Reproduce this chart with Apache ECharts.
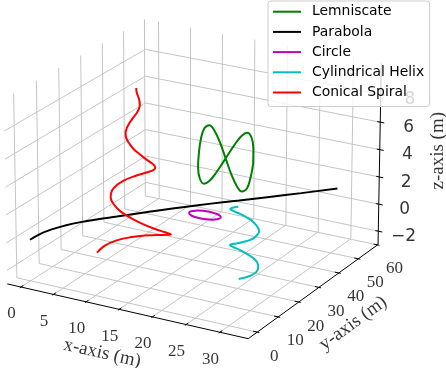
<!DOCTYPE html>
<html>
<head>
<meta charset="utf-8">
<script src="https://cdn.jsdelivr.net/npm/echarts@6/dist/echarts.min.js"></script>
<style>
html, body { margin: 0; padding: 0; background: #fff; }
#main { width: 446px; height: 368px; }
</style>
</head>
<body>
<div id="main"></div>
<script>
// tick values
var xTicks = [0, 5, 10, 15, 20, 25, 30];
var yTicks = [0, 10, 20, 30, 40, 50, 60];
var zTicks = [-2, 0, 2, 4, 6, 8];

// curves (x, y, z in metres)
var lemniscateX = [21.1, 20.9, 20.5, 19.8, 19.0, 18.0, 16.9, 15.8, 14.8, 14.0, 13.3, 12.9, 12.8, 12.9, 13.3, 14.0, 14.8, 15.8, 16.9, 18.0, 19.0, 19.8, 20.5, 20.9, 21.1];
var lemniscateY = [40.0, 40.7, 41.1, 41.3, 41.1, 40.7, 40.0, 39.3, 38.9, 38.7, 38.9, 39.3, 40.0, 40.7, 41.1, 41.3, 41.1, 40.7, 40.0, 39.3, 38.9, 38.7, 38.9, 39.3, 40.0];
var lemniscateZ = [3.64, 4.64, 5.38, 5.65, 5.38, 4.64, 3.64, 2.64, 1.90, 1.63, 1.90, 2.64, 3.64, 4.64, 5.38, 5.65, 5.38, 4.64, 3.64, 2.64, 1.90, 1.63, 1.90, 2.64, 3.64];

var parabolaX = [0, 0.15, 0.59, 1.32, 2.35, 3.67, 5.28, 7.19, 9.39, 11.89, 14.68, 17.76, 21.14, 24.81, 29.03];
var parabolaY = [0, 4, 8, 12, 16, 20, 24, 28, 32, 36, 40, 44, 48, 52, 56.25];
var parabolaZ = [0, 0.02, 0, -0.05, -0.1, -0.16, -0.2, -0.18, -0.12, -0.03, 0.1, 0.25, 0.45, 0.7, 1.05];

var circleX = [18.1, 17.9, 17.4, 16.6, 15.7, 14.8, 14.1, 13.6, 13.4, 13.6, 14.1, 14.8, 15.7, 16.6, 17.4, 17.9, 18.1];
var circleY = [33.6, 34.5, 35.3, 35.8, 36.0, 35.8, 35.3, 34.5, 33.6, 32.8, 32.0, 31.5, 31.3, 31.5, 32.0, 32.8, 33.6];
var circleZ = [0, 0, 0, 0, 0, 0, 0, 0, 0, 0, 0, 0, 0, 0, 0, 0, 0];

var helixX = [25.7, 24.9, 24.4, 24.0, 24.0, 24.2, 24.8, 25.5, 26.3, 27.0, 27.6, 28.0, 28.0, 27.8, 27.3, 26.5, 25.8, 25.0, 24.4, 24.0, 24.0, 24.1, 24.7, 25.4, 26.2, 27.0, 27.6, 27.9, 28.0, 27.8, 27.3, 26.6, 25.8];
var helixY = [18.0, 18.3, 18.8, 19.6, 20.4, 21.1, 21.7, 22.0, 22.1, 21.8, 21.3, 20.6, 19.8, 19.0, 18.4, 18.1, 18.0, 18.3, 18.8, 19.5, 20.3, 21.1, 21.7, 22.0, 22.1, 21.9, 21.3, 20.6, 19.9, 19.1, 18.5, 18.1, 18.0];
var helixZ = [3.18, 3.02, 2.86, 2.69, 2.53, 2.37, 2.21, 2.05, 1.89, 1.72, 1.56, 1.40, 1.24, 1.08, 0.91, 0.75, 0.59, 0.43, 0.27, 0.10, -0.06, -0.22, -0.38, -0.54, -0.71, -0.87, -1.03, -1.19, -1.35, -1.51, -1.68, -1.84, -2.00];

var spiralX = [10.0, 10.1, 10.3, 10.4, 10.4, 10.2, 9.9, 9.5, 9.1, 8.8, 8.6, 8.6, 8.9, 9.5, 10.2, 11.1, 11.8, 12.4, 12.6, 12.4, 11.8, 10.8, 9.6, 8.4, 7.3, 6.6, 6.3, 6.6, 7.5, 8.8, 10.5, 12.2, 13.6, 14.6, 14.9, 14.4, 13.2, 11.5, 9.4, 7.3, 5.5, 4.4, 4.0];
var spiralY = [19.2, 19.1, 19.2, 19.4, 19.6, 19.9, 20.0, 20.1, 19.9, 19.5, 19.0, 18.4, 17.8, 17.4, 17.2, 17.3, 17.7, 18.5, 19.5, 20.5, 21.4, 22.1, 22.3, 22.1, 21.3, 20.2, 18.8, 17.3, 16.0, 15.2, 14.9, 15.3, 16.3, 17.9, 19.7, 21.6, 23.2, 24.3, 24.6, 24.1, 22.8, 20.8, 18.5];
var spiralZ = [10.00, 9.70, 9.41, 9.11, 8.82, 8.52, 8.23, 7.93, 7.63, 7.34, 7.04, 6.75, 6.45, 6.16, 5.86, 5.56, 5.27, 4.97, 4.68, 4.38, 4.09, 3.79, 3.49, 3.20, 2.90, 2.61, 2.31, 2.02, 1.72, 1.42, 1.13, 0.83, 0.54, 0.24, -0.05, -0.35, -0.65, -0.94, -1.24, -1.53, -1.83, -2.12, -2.42];

// view of the 3D box (perspective camera looking at the data box)
var D2R = Math.PI / 180;
var BOX = [1.1428, 1.1428, 0.8571];
var VIEW = { elev: 21.324, azim: -60.405, dist: 16.691, zoom: 4008.651, cx: 194.847, cy: 168.971 };
var NORM = { x: [-2.136, 34.141], y: [-4.269, 60.295], z: [-2.989, 10.872] };
var PANE = { x: [-2.136, 34.141], y: [-4.269, 60.295], z: [-2.989, 10.24] };

function makeProjection(view, norm) {
  var e = view.elev * D2R, a = view.azim * D2R;
  var w = [Math.cos(e) * Math.cos(a), Math.cos(e) * Math.sin(a), Math.sin(e)];
  var eye = [BOX[0] / 2 + view.dist * w[0], BOX[1] / 2 + view.dist * w[1], BOX[2] / 2 + view.dist * w[2]];
  var ul = Math.sqrt(w[0] * w[0] + w[1] * w[1]);
  var u = [-w[1] / ul, w[0] / ul, 0];
  var v = [w[1] * u[2] - w[2] * u[1], w[2] * u[0] - w[0] * u[2], w[0] * u[1] - w[1] * u[0]];
  return function (x, y, z) {
    var d = [
      (x - norm.x[0]) / (norm.x[1] - norm.x[0]) * BOX[0] - eye[0],
      (y - norm.y[0]) / (norm.y[1] - norm.y[0]) * BOX[1] - eye[1],
      (z - norm.z[0]) / (norm.z[1] - norm.z[0]) * BOX[2] - eye[2]
    ];
    var xv = u[0] * d[0] + u[1] * d[1];
    var yv = v[0] * d[0] + v[1] * d[1] + v[2] * d[2];
    var zv = w[0] * d[0] + w[1] * d[1] + w[2] * d[2];
    return [view.cx + view.zoom * xv / (-zv), view.cy - view.zoom * yv / (-zv)];
  };
}
var proj = makeProjection(VIEW, NORM);

var X0 = PANE.x[0], X1 = PANE.x[1], Y0 = PANE.y[0], Y1 = PANE.y[1], Z0 = PANE.z[0], Z1 = PANE.z[1];
var DX = (X1 - X0) / 12, DY = (Y1 - Y0) / 12;

function seg(list, a, b) {
  list.push({ coords: [proj(a[0], a[1], a[2]), proj(b[0], b[1], b[2])] });
}

// grid on the three back panes
var gridSegs = [];
xTicks.forEach(function (x) {
  seg(gridSegs, [x, Y0, Z0], [x, Y1, Z0]);
  seg(gridSegs, [x, Y1, Z0], [x, Y1, Z1]);
});
yTicks.forEach(function (y) {
  seg(gridSegs, [X0, y, Z0], [X1, y, Z0]);
  seg(gridSegs, [X0, y, Z0], [X0, y, Z1]);
});
zTicks.forEach(function (z) {
  seg(gridSegs, [X0, Y0, z], [X0, Y1, z]);
  seg(gridSegs, [X0, Y1, z], [X1, Y1, z]);
});

// axis lines + tick marks
var axisSegs = [];
seg(axisSegs, [X0, Y0, Z0], [X1, Y0, Z0]);
seg(axisSegs, [X1, Y0, Z0], [X1, Y1, Z0]);
seg(axisSegs, [X1, Y1, Z0], [X1, Y1, Z1]);
xTicks.forEach(function (x) { seg(axisSegs, [x, Y0 - 0.1 * DY, Z0], [x, Y0 + 0.2 * DY, Z0]); });
yTicks.forEach(function (y) { seg(axisSegs, [X1 + 0.1 * DX, y, Z0], [X1 - 0.2 * DX, y, Z0]); });
zTicks.forEach(function (z) { seg(axisSegs, [X1 + 0.2 * DX, Y1, z], [X1 - 0.15 * DX, Y1, z]); });

// tick labels
function shifted(p, dx, dy) { return [p[0] + dx, p[1] + dy]; }
var xLabelData = xTicks.map(function (t) { return { name: String(t), value: shifted(proj(t, Y0, Z0), -9.5, 27) }; });
var yLabelData = yTicks.map(function (t) { return { name: String(t), value: shifted(proj(X1, t, Z0), 17, 24) }; });
var zLabelData = zTicks.map(function (t) {
  return { name: t < 0 ? '\u2212' + (-t) : String(t), value: shifted(proj(X1, Y1, t), 26 + 0.4 * t, 5.3) };
});

// axis titles
var xa0 = proj(X0, Y0, Z0), xa1 = proj(X1, Y0, Z0), ya1 = proj(X1, Y1, Z0);
var xAngle = -Math.atan2(xa1[1] - xa0[1], xa1[0] - xa0[0]) / D2R;
var yAngle = -Math.atan2(ya1[1] - xa1[1], ya1[0] - xa1[0]) / D2R;
var xTitle = { name: 'x-axis (m)', value: shifted(proj((X0 + X1) / 2, Y0, Z0), -23.5, 42.4) };
var yTitle = { name: 'y-axis (m)', value: shifted(proj(X1, (Y0 + Y1) / 2, Z0), 38.3, 33) };
var zTitle = { name: 'z-axis (m)', value: shifted(proj(X1, Y1, (Z0 + Z1) / 2), 58.5, -4) };

function textSeries(data, family, size, rotate) {
  return {
    type: 'scatter', data: data, symbolSize: 1, silent: true, z: 1,
    itemStyle: { color: 'rgba(0,0,0,0)' },
    label: { show: true, position: 'inside', formatter: '{b}', color: '#000', fontFamily: family, fontSize: size, rotate: rotate || 0 }
  };
}

function curve(name, color, xs, ys, zs) {
  var pts = xs.map(function (x, i) { return proj(x, ys[i], zs[i]); });
  return {
    name: name, type: 'line', data: pts, showSymbol: false, smooth: 0.4, silent: true, z: 2,
    color: color, itemStyle: { color: color }, lineStyle: { color: color, width: 2 }
  };
}

var myChart = echarts.init(document.getElementById('main'));
myChart.setOption({
  animation: false,
  grid: { left: 0, right: 0, top: 0, bottom: 0 },
  xAxis: { type: 'value', min: 0, max: 446, show: false },
  yAxis: { type: 'value', min: 0, max: 368, inverse: true, show: false },
  legend: {
    zlevel: 1, z: 20,
    data: ['Lemniscate', 'Parabola', 'Circle', 'Cylindrical Helix', 'Conical Spiral'],
    orient: 'vertical', left: 268, top: 1,
    icon: 'rect', itemWidth: 28, itemHeight: 2, itemGap: 5.2,
    padding: [3.2, 5.5, 6.5, 5],
    backgroundColor: 'rgba(255,255,255,0.8)', borderColor: '#cccccc', borderWidth: 1, borderRadius: 3,
    selectedMode: false,
    textStyle: { color: '#000', fontFamily: 'DejaVu Sans', fontSize: 13.9, lineHeight: 15, padding: [0, 0, 0, 6] }
  },
  series: [
    { type: 'lines', coordinateSystem: 'cartesian2d', data: gridSegs, silent: true, z: 1, lineStyle: { color: '#c4c4c4', width: 1, opacity: 1 } },
    { type: 'lines', coordinateSystem: 'cartesian2d', data: axisSegs, silent: true, z: 1, lineStyle: { color: '#000', width: 1, opacity: 1 } },
    textSeries(xLabelData, 'Liberation Serif', 17),
    textSeries(yLabelData, 'Liberation Serif', 17),
    textSeries(zLabelData, 'DejaVu Sans', 17),
    textSeries([xTitle], 'Liberation Serif', 19, xAngle),
    textSeries([yTitle], 'Liberation Serif', 19, yAngle),
    textSeries([zTitle], 'Liberation Serif', 19, 90),
    curve('Lemniscate', '#008000', lemniscateX, lemniscateY, lemniscateZ),
    curve('Parabola', '#000000', parabolaX, parabolaY, parabolaZ),
    curve('Circle', '#bf00bf', circleX, circleY, circleZ),
    curve('Cylindrical Helix', '#00bfbf', helixX, helixY, helixZ),
    curve('Conical Spiral', '#ff0000', spiralX, spiralY, spiralZ)
  ]
});
</script>
</body>
</html>
